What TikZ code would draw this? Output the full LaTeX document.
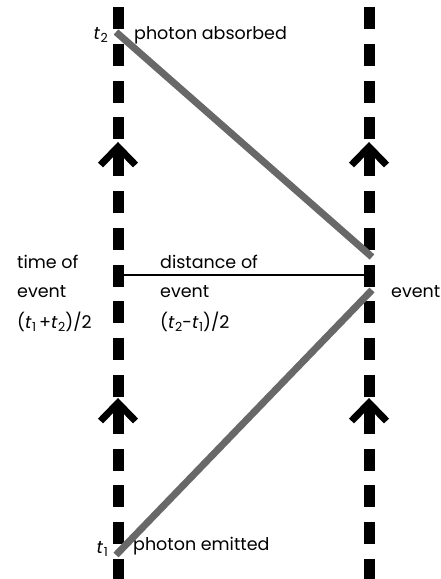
\documentclass[tikz,border=0pt]{standalone}
\usepackage{fontspec}
\setmainfont{Poppins}
\definecolor{photongray}{RGB}{104,104,104}
\newcommand{\tsub}[1]{\textit{t}\kern0.5pt\raisebox{-0.35ex}{\fontsize{12.5}{14}\selectfont #1}}
\tikzset{
  worldline/.style={line width=11pt, dash pattern=on 22pt off 14.8pt},
  photon/.style={line width=7pt, color=photongray},
  chevron/.style={line width=7pt, miter limit=4},
  lbl/.style={inner sep=0pt, anchor=west, font=\fontsize{17.5}{20}\selectfont},
}
\begin{document}
\begin{tikzpicture}[x=1pt,y=-1pt]
  \useasboundingbox (0,0) rectangle (440,579);
  % the two world lines
  \draw[worldline] (118,7) -- (118,590);
  \draw[worldline] (369,7) -- (369,590);
  \foreach \x in {118,369}
    \foreach \y in {142,398} {
      \draw[chevron] (\x-17.5,\y+23) -- (\x,\y+5) -- (\x+17.5,\y+23);
      \draw[line width=10pt] (\x,\y+5) -- (\x,\y+14);
    }
  % photon path
  \coordinate (absorb) at (116,32);
  \coordinate (evtin) at (372,257);
  \coordinate (evtout) at (372,290);
  \coordinate (emit) at (116,555);
  \draw[photon] (absorb) -- (evtin);
  \draw[photon] (evtout) -- (emit);
  \coordinate (left) at (118,275);
  \coordinate (right) at (369,275);
  \draw[line width=1.5pt] (left) -- (right);
  % labels
  \node[lbl, anchor=east] (ttwo) at (108,35) {\tsub{2}};
  \node[lbl] (absorbed) at (134,35) {photon absorbed};
  \node[lbl, anchor=east] (tone) at (108,549) {\tsub{1}};
  \node[lbl] (emitted) at (133,546) {photon emitted};
  \node[lbl] (time) at (17,262) {time of};
  \node[lbl] (timeb) at (17,292) {event};
  \node[lbl] (timec) at (17,322) {(\tsub{1}\,+\tsub{2})/2};
  \node[lbl] (dist) at (160,262) {distance of};
  \node[lbl] (distb) at (160,292) {event};
  \node[lbl] (distc) at (160,322) {(\tsub{2}-\tsub{1})/2};
  \node[lbl] (event) at (391,292) {event};
\end{tikzpicture}
\end{document}
